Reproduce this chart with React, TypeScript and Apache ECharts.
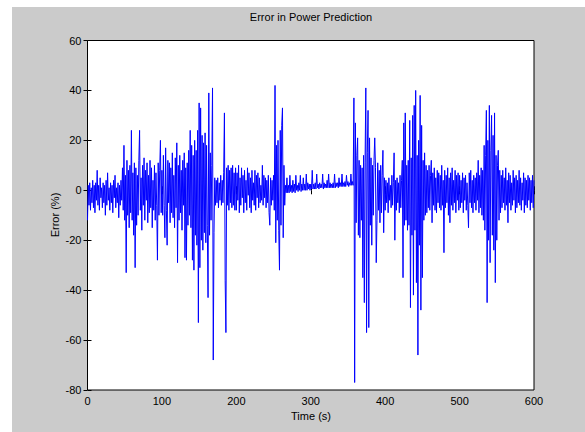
import React, { useEffect, useRef } from "react";
import * as echarts from "echarts";

const err000 = [
  -12, 2, -6, 3, -8, 1, -5, 4, -7, 2, -9, 3, -4, 8, -6, 2, -8, 5, -3, 1,
  -7, 3, -5, 2, -10, 4, -6, 7, -4, 1, -8, 3, -5, 2, -9, 4, -3, 6, -7, 1,
  -5, 3, -11, 2, -6, 4, -4, 9, -8, 18, -12, 6, -33, 12, -10, 8, -15, 10, -9, 24,
  -12, 7, -18, 11, -31, 9, -14, 6, -10, 12, 24, -8, 5, -16, 10, -6, 13, -12, 8, -4,
  11, -13, 6, -9, 12, -7, 9, -15, 4, -8, 10, -12, 7, -6, -28, 11, -10, 8, 20, -9,
];
const err100 = [
  8, -10, 14, -6, -19, 17, -8, -22, 12, -5, 11, -13, 9, -9, 15, -11, 6, -15, 13, -7,
  19, -29, 10, -12, 14, -9, 8, -16, 12, -6, 15, -27, 9, -28, 11, -14, 16, -10, 24, -15,
  18, -28, 14, -32, 20, -18, 16, -22, 24, -53, 35, -31, 33, -20, 22, -24, 19, -17, 23, -21,
  18, -14, -43, 39, -18, 15, -12, 10, 41, -68, -17, 5, -6, 4, -5, 5, -7, 3, -4, 6,
  -6, 4, -5, 7, 31, -36, -57, 9, -6, 10, -8, 8, -5, 9, -7, 10, -6, 7, -8, 9,
];
const err200 = [
  -8, 7, -4, 10, -9, 5, -6, 9, -3, 6, -9, 8, -5, 4, -8, 9, -2, 7, -7, 5,
  -9, 8, -4, 3, -6, 8, -8, 6, -3, 7, -7, 5, -5, 2, -4, 10, -6, 6, -3, 5,
  -7, 4, -5, 6, -9, -14, 5, -6, 4, -4, 6, -8, 42, -21, 18, -12, 20, -16, -32, 24,
  -14, 26, 33, -19, 10, -6, 2, -1, 5, -1, 2, -1, 6, -0.5, 2, -1, 4, -0.5, 2.5, -1,
  6, 0, 2, -0.5, 3, 0, 6, -0.5, 2.5, 0, 5, 0, 2.5, 0, 6.5, 0, 3, 0.5, 2.5, 0,
];
const err300 = [
  2.5, 0.5, 8, 0.5, 2.5, 0.5, 3, 0.5, 6.5, 1, 2.5, 0.5, 3, 1, 2.5, 1, 6.5, 0.5, 3, 1,
  2.5, 1, 4, 1, 6.5, 1, 3, 1, 2.5, 1, 3, 1, 6.5, 1, 3, 1.5, 3, 1, 5, 1.5,
  3, 1.5, 6.5, 1.5, 3, 1.5, 3.5, 1.5, 6, 2, 3.5, 1.5, 3, 2, 6.5, 2, 3.5, 2, 37, -77,
  27, -13, 14, 21, -18, 12, -19, 10, -12, 9, -35, 14, -45, 11, 41, -57, 15, 32, -55, 21,
  -14, 13, -22, 10, -10, 12, 21, 9, -29, -12, 11, -8, 8, -13, 10, -9, 6, 16, -17, 5,
];
const err400 = [
  -8, 4, -5, 3, -9, 5, -4, 2, -7, 6, -6, 3, 15, -20, 4, -8, 5, -5, 3, -9,
  6, -7, 4, 12, -35, 27, -14, 31, -12, 10, -16, 12, -14, 28, -47, 13, -18, 30, -42, 34,
  -16, 40, -37, 14, -66, 20, -22, 38, -48, 26, -35, 12, -12, 15, -10, 10, -9, 8, -7, 10,
  -8, 6, 12, -13, 7, -6, 9, -8, 5, -9, 8, -5, 7, -7, 6, -8, 10, -6, 4, -25,
  8, -7, 6, -5, 9, -10, 5, -13, 7, -6, 9, -8, 4, -5, 8, -9, 6, -4, 7, -8,
];
const err500 = [
  6, -7, 4, -5, 7, -9, 5, -4, 6, -8, 3, -6, -15, 7, -5, 8, -7, 4, -9, 6,
  -5, 5, -8, 7, -4, 12, -9, 6, -7, 9, -10, 8, -12, 18, -16, 14, 32, -45, 20, -20,
  34, -29, 16, 30, -18, 22, -24, 31, -37, 14, -20, 10, 16, -12, 8, -9, 6, -7, 8, -5,
  5, -8, 9, -6, 4, -13, 7, -5, 6, -8, 3, -6, 8, -4, 5, -9, 6, -7, 4, -5,
  8, -6, 5, -8, 3, -4, 7, -9, 5, -6, 4, -7, 6, -4, 5, -8, 4, -5, 6, -7, 4,
];

const xTicks = { min: 0, max: 600, interval: 100 };
const yTicks = { min: -80, max: 60, interval: 20 };

export default function App() {
  const ref = useRef<HTMLDivElement>(null);
  useEffect(() => {
    if (!ref.current) return;
    const chart = echarts.init(ref.current, null, { renderer: "svg" });
    const values = [...err000, ...err100, ...err200, ...err300, ...err400, ...err500];
    const data = values.map((v, i) => [i, v]);
    const font = "Liberation Sans, Arial, sans-serif";
    const axisCommon = {
      axisLine: { show: false },
      splitLine: { show: false },
      axisTick: { show: true, inside: true, length: 4, lineStyle: { color: "#000", width: 1 } },
    };
    chart.setOption({
      animation: false,
      backgroundColor: "#ffffff",
      graphic: [
        {
          type: "rect",
          z: -10,
          shape: { x: 12, y: 7, width: 573, height: 425 },
          style: { fill: "#cbcbcb" },
          silent: true,
        },
        {
          type: "text",
          x: 311,
          y: 17,
          style: {
            text: "Error in Power Prediction",
            font: `11px ${font}`,
            fill: "#000",
            textAlign: "center",
            textVerticalAlign: "middle",
          },
        },
        {
          type: "text",
          x: 311,
          y: 416,
          style: {
            text: "Time (s)",
            font: `11px ${font}`,
            fill: "#000",
            textAlign: "center",
            textVerticalAlign: "middle",
          },
        },
        {
          type: "text",
          x: 55,
          y: 215,
          rotation: Math.PI / 2,
          style: {
            text: "Error (%)",
            font: `11px ${font}`,
            fill: "#000",
            textAlign: "center",
            textVerticalAlign: "middle",
          },
        },
      ],
      grid: {
        left: 87.5,
        top: 40.5,
        right: 51,
        bottom: 42,
        show: true,
        backgroundColor: "#ffffff",
        borderColor: "#000",
        borderWidth: 1,
        z: 0,
      },
      xAxis: [
        {
          type: "value",
          position: "bottom",
          ...xTicks,
          ...axisCommon,
          axisLabel: { color: "#000", fontSize: 11, fontFamily: font, margin: 5 },
        },
        {
          type: "value",
          position: "top",
          ...xTicks,
          ...axisCommon,
          axisLabel: { show: false },
        },
      ],
      yAxis: [
        {
          type: "value",
          position: "left",
          ...yTicks,
          ...axisCommon,
          axisLabel: { color: "#000", fontSize: 11, fontFamily: font, margin: 6 },
        },
        {
          type: "value",
          position: "right",
          ...yTicks,
          ...axisCommon,
          axisLabel: { show: false },
        },
      ],
      series: [
        {
          type: "line",
          data,
          xAxisIndex: 0,
          yAxisIndex: 0,
          showSymbol: false,
          symbol: "none",
          sampling: undefined,
          lineStyle: { color: "#0000ff", width: 1 },
          z: 2,
        },
      ],
    });
    return () => chart.dispose();
  }, []);
  return (
    <div
      ref={ref}
      style={{ position: "fixed", left: 0, top: 0, width: 585, height: 432 }}
    />
  );
}
